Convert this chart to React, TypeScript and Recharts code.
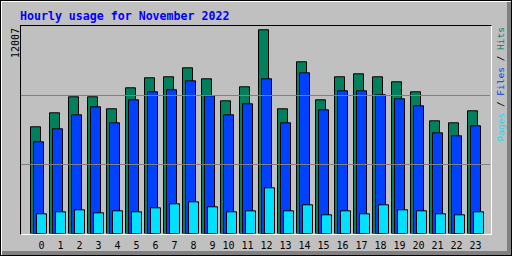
import { Bar, BarChart, ReferenceLine, XAxis, YAxis } from "recharts";

const hours = ["0", "1", "2", "3", "4", "5", "6", "7", "8", "9", "10", "11", "12", "13", "14", "15", "16", "17", "18", "19", "20", "21", "22", "23"];
const hits = [6289, 7114, 8057, 8057, 7350, 8588, 9177, 9236, 9766, 9118, 7821, 8647, 12007, 7350, 10120, 7880, 9236, 9413, 9236, 8941, 8352, 6642, 6525, 7232];
const files = [5405, 6171, 6996, 7468, 6525, 7880, 8352, 8470, 9000, 8116, 6996, 7645, 9118, 6525, 9472, 7291, 8411, 8411, 8175, 7939, 7527, 5935, 5758, 6348];
const pages = [1161, 1279, 1397, 1220, 1338, 1279, 1515, 1750, 1868, 1574, 1279, 1338, 2694, 1338, 1692, 1102, 1338, 1161, 1692, 1397, 1338, 1161, 1102, 1279];

const maxLabel = "12007";
const yTop = 12200;

const HIT_COLOR = "#00805c";
const FILE_COLOR = "#0040ff";
const PAGE_COLOR = "#00e0ff";
const MONO = "'DejaVu Sans Mono', monospace";

const data = hours.map((hour, i) => ({ hour, hits: hits[i], files: files[i], pages: pages[i] }));

function HourTick({ x, y, payload }: any) {
  return (
    <text x={x + 6.5} y={y} dy="0.71em" textAnchor="end" fontSize={10} fontFamily={MONO} fill="#000">
      {payload.value}
    </text>
  );
}

export default function App() {
  return (
    <div
      style={{
        position: "absolute",
        left: 0,
        top: 0,
        width: 512,
        height: 256,
        boxSizing: "border-box",
        background: "#c0c0c0",
        border: "1px solid #000",
        boxShadow: "inset 1px 1px 0 #fff, inset -4px -4px 0 #808080",
      }}
    >
      {/* plot frame */}
      <div
        style={{
          position: "absolute",
          left: 19,
          top: 24,
          width: 472,
          height: 210,
          boxSizing: "border-box",
          borderTop: "1px solid #000",
          borderLeft: "1px solid #000",
          borderBottom: "1px solid #fff",
          borderRight: "1px solid #fff",
        }}
      />
      <div style={{ position: "absolute", left: -1, top: -1 }}>
        <BarChart width={512} height={256} data={data} margin={{ top: 26.5, right: 22, bottom: 0, left: 21 }}>
          <XAxis xAxisId="h" dataKey="hour" hide padding={{ left: 4.5, right: 8.5 }} />
          <XAxis
            xAxisId={0}
            dataKey="hour"
            height={22.5}
            axisLine={false}
            tickLine={false}
            interval={0}
            tick={<HourTick />}
            padding={{ left: 7.5, right: 5.5 }}
          />
          <XAxis xAxisId="p" dataKey="hour" hide padding={{ left: 10.5, right: 2.5 }} />
          <YAxis hide domain={[0, yTop]} allowDataOverflow />
          <ReferenceLine y={yTop / 3} stroke="#808080" />
          <ReferenceLine y={(yTop * 2) / 3} stroke="#808080" />
          <Bar xAxisId="h" dataKey="hits" barSize={10} fill={HIT_COLOR} stroke="#000" strokeWidth={1} isAnimationActive={false} />
          <Bar xAxisId={0} dataKey="files" barSize={10} fill={FILE_COLOR} stroke="#000" strokeWidth={1} isAnimationActive={false} />
          <Bar xAxisId="p" dataKey="pages" barSize={10} fill={PAGE_COLOR} stroke="#000" strokeWidth={1} isAnimationActive={false} />
        </BarChart>
      </div>
      <svg width={512} height={256} style={{ position: "absolute", left: -1, top: -1, pointerEvents: "none" }}>
        <text x={20} y={19.5} fontSize={11.6} fontWeight="bold" fontFamily={MONO} fill="#0000ff">
          Hourly usage for November 2022
        </text>
        <text x={19} y={28} transform="rotate(-90 19 28)" textAnchor="end" fontSize={10} fontFamily={MONO} fill="#000">
          {maxLabel}
        </text>
        <text x={504} y={27} transform="rotate(-90 504 27)" textAnchor="end" fontSize={9.5} fontFamily={MONO}>
          <tspan fill={PAGE_COLOR}>Pages</tspan>
          <tspan fill="#000"> / </tspan>
          <tspan fill={FILE_COLOR}>Files</tspan>
          <tspan fill="#000"> / </tspan>
          <tspan fill={HIT_COLOR}>Hits</tspan>
        </text>
      </svg>
    </div>
  );
}
